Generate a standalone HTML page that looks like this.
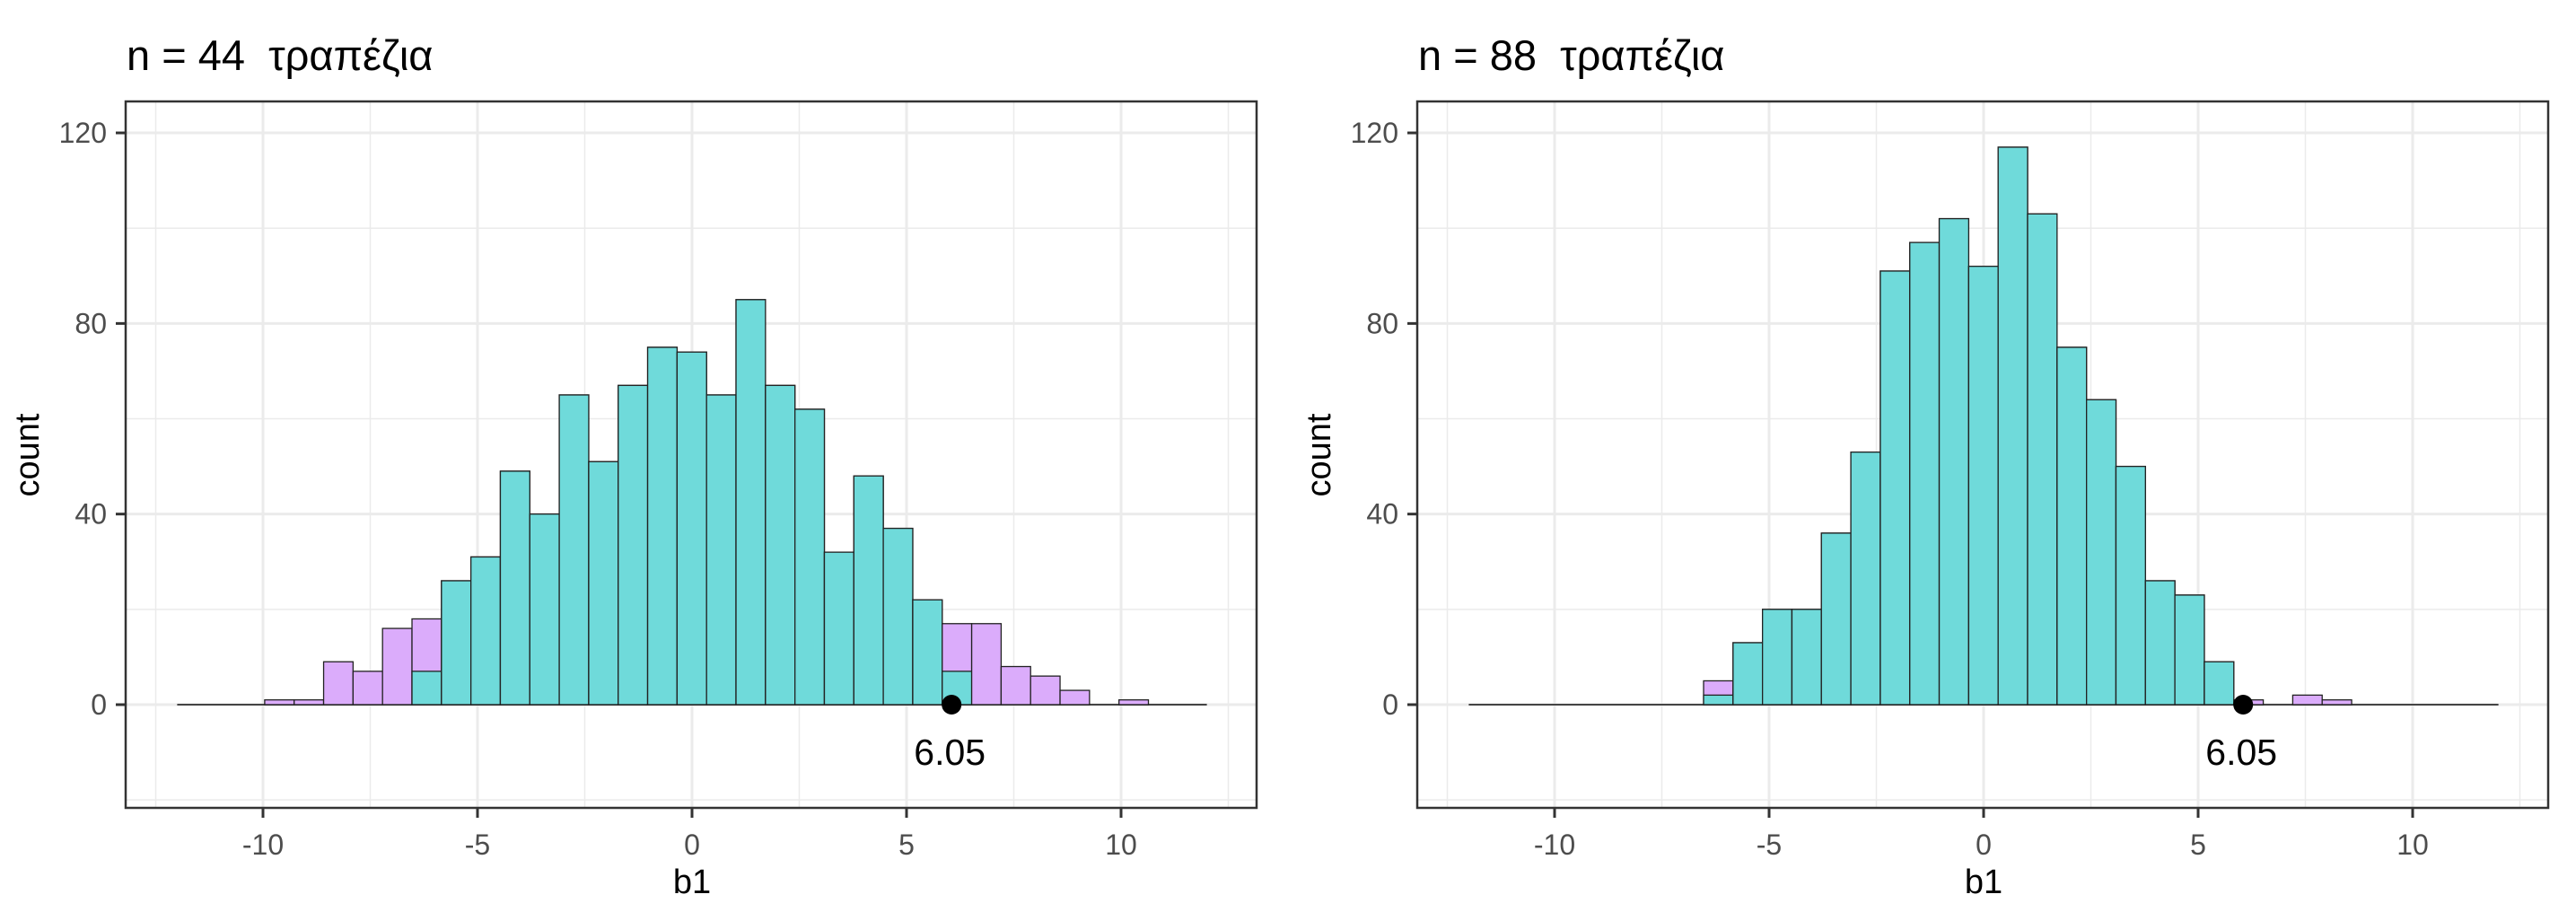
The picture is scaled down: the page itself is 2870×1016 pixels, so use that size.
<!DOCTYPE html>
<html><head><meta charset="utf-8"><style>
html,body{margin:0;padding:0;background:#fff}
svg{display:block;font-family:"Liberation Sans","DejaVu Sans",sans-serif}
text{white-space:pre}
</style></head><body>
<svg id="chart" width="2870" height="1016" viewBox="0 0 2870 1016"></svg>
<script>
const binStart = -9.96;
const binWidth = 0.6866;
const leftTitle = "n = 44  τραπέζια";
const rightTitle = "n = 88  τραπέζια";
const leftTotal = [1,1,9,7,16,18,26,31,49,40,65,51,67,75,74,65,85,67,62,32,48,37,22,17,17,8,6,3,0,1];
const leftTeal  = [0,0,0,0,0,7,26,31,49,40,65,51,67,75,74,65,85,67,62,32,48,37,22,7,0,0,0,0,0,0];
const rightTotal = [0,0,0,0,0,5,13,20,20,36,53,91,97,102,92,117,103,75,64,50,26,23,9,1,0,2,1,0,0,0];
const rightTeal  = [0,0,0,0,0,2,13,20,20,36,53,91,97,102,92,117,103,75,64,50,26,23,9,0,0,0,0,0,0,0];
const observed = 6.05;
const xTicks = [-10,-5,0,5,10];
const xTickLabels = ["-10","-5","0","5","10"];
const yTicks = [0,40,80,120];
const yTickLabels = ["0","40","80","120"];
const xMinor = [-12.5,-7.5,-2.5,2.5,7.5,12.5];
const yMinor = [-20,20,60,100];

const NS = "http://www.w3.org/2000/svg";
const svg = document.getElementById('chart');
function mk(tag, attrs, parent){
  const e = document.createElementNS(NS, tag);
  for (const k in attrs) e.setAttribute(k, attrs[k]);
  (parent||svg).appendChild(e);
  return e;
}
function panel(offset, title, totals, teals, pname){
  const g = mk('g', {});
  
  
  const L = 140 + offset, R = 1400 + offset, T = 113, B = 900;
  const x = v => 771 + offset + v * 47.8;
  const y = v => 785 - v * 5.308;
  const t = mk('text', {x: L + 1, y: 78, 'font-size': 47, fill: '#000'}, g);
  t.textContent = title;
  
  
  mk('rect', {x: L, y: T, width: R - L, height: B - T, fill: '#fff'}, g);
  xMinor.forEach(v => { const l = mk('line', {x1: x(v), x2: x(v), y1: T, y2: B, stroke: '#ebebeb', 'stroke-width': 1.5}, g);
      });
  yMinor.forEach(v => { const l = mk('line', {x1: L, x2: R, y1: y(v), y2: y(v), stroke: '#ebebeb', 'stroke-width': 1.5}, g);
      });
  xTicks.forEach(v => { const l = mk('line', {x1: x(v), x2: x(v), y1: T, y2: B, stroke: '#ebebeb', 'stroke-width': 3}, g);
      });
  yTicks.forEach(v => { const l = mk('line', {x1: L, x2: R, y1: y(v), y2: y(v), stroke: '#ebebeb', 'stroke-width': 3}, g);
      });
  const base = mk('line', {x1: x(-12), x2: x(12), y1: y(0), y2: y(0), stroke: '#444', 'stroke-width': 2}, g);
  
  
  totals.forEach((c, i) => {
    if (c <= 0) return;
    const x0 = x(binStart + i * binWidth), x1 = x(binStart + (i + 1) * binWidth);
    const r = mk('rect', {x: x0, y: y(c), width: x1 - x0, height: y(0) - y(c), fill: '#dbacfb', stroke: '#222', 'stroke-width': 1.3}, g);
    
    
    const tc = teals[i];
    if (tc > 0) {
      const r2 = mk('rect', {x: x0, y: y(tc), width: x1 - x0, height: y(0) - y(tc), fill: '#6fdada', stroke: '#222', 'stroke-width': 1.3}, g);
      
      
    }
  });
  const dot = mk('circle', {cx: x(observed), cy: y(0), r: 11, fill: '#000'}, g);
  
  
  const ol = mk('text', {x: x(observed) - 2, y: 852, 'font-size': 41, 'text-anchor': 'middle', fill: '#000'}, g);
  ol.textContent = observed.toFixed(2);
  
  
  const bx = mk('rect', {x: L, y: T, width: R - L, height: B - T, fill: 'none', stroke: '#333', 'stroke-width': 2.5}, g);
  
  
  xTicks.forEach((v, i) => {
    mk('line', {x1: x(v), x2: x(v), y1: B, y2: B + 11, stroke: '#333', 'stroke-width': 3}, g);
    const tl = mk('text', {x: x(v), y: 952, 'font-size': 32, 'text-anchor': 'middle', fill: '#4d4d4d'}, g);
    tl.textContent = xTickLabels[i];
    
    
  });
  yTicks.forEach((v, i) => {
    mk('line', {x1: L - 11, x2: L, y1: y(v), y2: y(v), stroke: '#333', 'stroke-width': 3}, g);
    const tl = mk('text', {x: L - 21, y: y(v) + 11, 'font-size': 32, 'text-anchor': 'end', fill: '#4d4d4d'}, g);
    tl.textContent = yTickLabels[i];
    
    
  });
  const xt = mk('text', {x: 771 + offset, y: 995, 'font-size': 38, 'text-anchor': 'middle', fill: '#000'}, g);
  xt.textContent = 'b1';
  
  
  const yt = mk('text', {x: 0, y: 0, 'font-size': 38, 'text-anchor': 'middle', fill: '#000', transform: `translate(${43 + offset},507) rotate(-90)`}, g);
  yt.textContent = 'count';
  
  
}
panel(0, leftTitle, leftTotal, leftTeal, 'panel-n44');
panel(1439, rightTitle, rightTotal, rightTeal, 'panel-n88');
</script>
</body></html>
